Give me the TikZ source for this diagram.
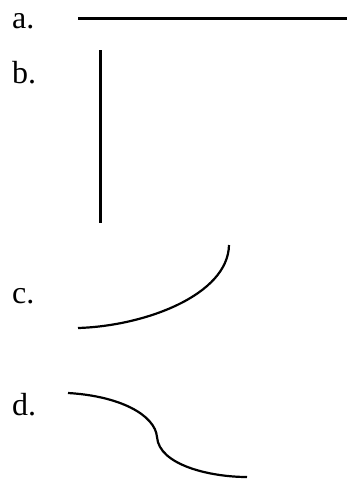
\documentclass[tikz,border=0pt]{standalone}
\usepackage{fontspec}
\setmainfont{Liberation Serif}
\begin{document}
\begin{tikzpicture}[x=1pt,y=-1pt,
  lbl/.style={anchor=base west,inner sep=0pt,font=\fontsize{32}{36}\selectfont},
  stroke/.style={line width=2.2pt,line cap=butt}]
\useasboundingbox (0,0) rectangle (347,479);
\node[lbl] (la) at (12,28) {a.};
\node[lbl] (lb) at (12,83) {b.};
\node[lbl] (lc) at (12,303) {c.};
\node[lbl] (ld) at (12,415) {d.};
% a
\coordinate (a1) at (78,18.5);
\coordinate (a2) at (347,18.5);
\draw[stroke] (a1) -- (a2);
% b
\coordinate (b1) at (100.5,50);
\coordinate (b2) at (100.5,223);
\draw[stroke] (b1) -- (b2);
% c
\coordinate (c1) at (78,328);
\coordinate (c2) at (229,245);
\draw[stroke] (c1) .. controls (145,326) and (228,295) .. (c2);
% d
\coordinate (d1) at (68,393);
\coordinate (dm) at (157,437);
\coordinate (d2) at (247,477);
\draw[stroke] (d1) .. controls (120,396) and (155,415) .. (dm)
  .. controls (159,465) and (210,477) .. (d2);
\end{tikzpicture}
\end{document}
